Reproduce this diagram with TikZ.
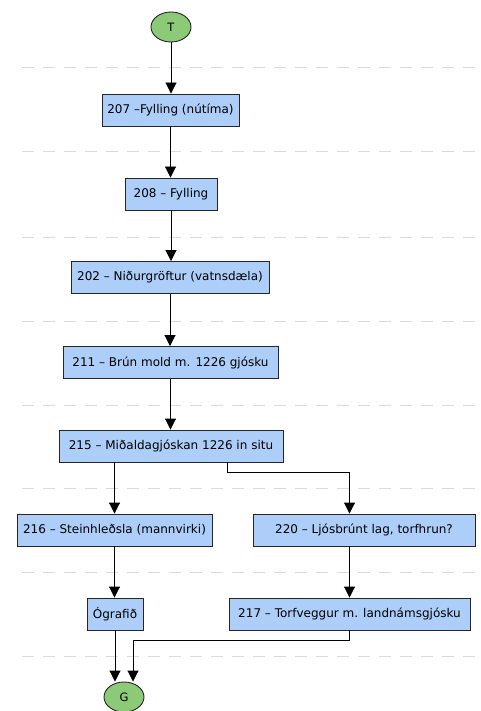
\documentclass[tikz,border=0pt]{standalone}
\usepackage{fontspec}
\setmainfont{DejaVu Sans}
\usetikzlibrary{arrows.meta,shapes.geometric}
\definecolor{boxblue}{RGB}{172,206,248}
\definecolor{nodegreen}{RGB}{140,202,120}
\definecolor{dashgray}{RGB}{218,218,218}
\begin{document}
\begin{tikzpicture}[x=1pt,y=-1pt,
  box/.style={draw=black!85, fill=boxblue, line width=0.9pt, inner sep=0pt, minimum height=32pt, font=\fontsize{12}{14}\selectfont},
  term/.style={draw=black!85, fill=nodegreen, ellipse, inner sep=0pt, minimum width=40pt, minimum height=30pt, line width=0.9pt, font=\fontsize{11.5}{13}\selectfont},
  conn/.style={line width=0.9pt, -{Triangle[width=11pt,length=11pt]}},
  sep/.style={dashgray, line width=1pt, dash pattern=on 12pt off 9pt}]
\useasboundingbox (0,0) rectangle (481,711);
% separators
\foreach \yy in {68,152,237,321,405,488,572,656}
  \draw[sep] (22,\yy) -- (481,\yy);
% nodes
\node[term] (T) at (171,27) {T};
\node[box, minimum width=137pt] (n207) at (170.5,110) {207 –Fylling (nútíma)};
\node[box, minimum width=92pt] (n208) at (171,194) {208 – Fylling};
\node[box, minimum width=198pt] (n202) at (170,277.5) {202 – Niðurgröftur (vatnsdæla)};
\node[box, minimum width=215pt] (n211) at (170.5,362.5) {211 – Brún mold m. 1226 gjósku};
\node[box, minimum width=224pt] (n215) at (171,446) {215 – Miðaldagjóskan 1226 in situ};
\node[box, minimum width=195pt] (n216) at (114.5,530) {216 – Steinhleðsla (mannvirki)};
\node[box, minimum width=222pt] (n220) at (364,530) {220 – Ljósbrúnt lag, torfhrun?};
\node[box, minimum width=56pt] (nOg) at (115,614) {Ógrafið};
\node[box, minimum width=241pt] (n217) at (349.5,614) {217 – Torfveggur m. landnámsgjósku};
\node[term] (G) at (124,697) {G};
% connectors
\draw[conn] (T.south) -- (T.south |- n207.north);
\draw[conn] (n207.south) -- (n207.south |- n208.north);
\draw[conn] (n208.south) -- (n208.south |- n202.north);
\draw[conn] (n202.south) -- (n202.south |- n211.north);
\draw[conn] (n211.south) -- (n211.south |- n215.north);
\draw[conn] (n216.north |- n215.south) -- (n216.north);
\draw[conn] ([xshift=56pt]n215.south) -- ++(0,10) -| (n217.north |- n220.north);
\draw[conn] (n216.south) -- (n216.south |- nOg.north);
\draw[conn] (n217.north |- n220.south) -- (n217.north);
\draw[conn] (nOg.south) -- (nOg.south |- G.north);
\draw[conn] (n217.south) -- ++(0,10) -| ([xshift=9pt]G.north);
\end{tikzpicture}
\end{document}
